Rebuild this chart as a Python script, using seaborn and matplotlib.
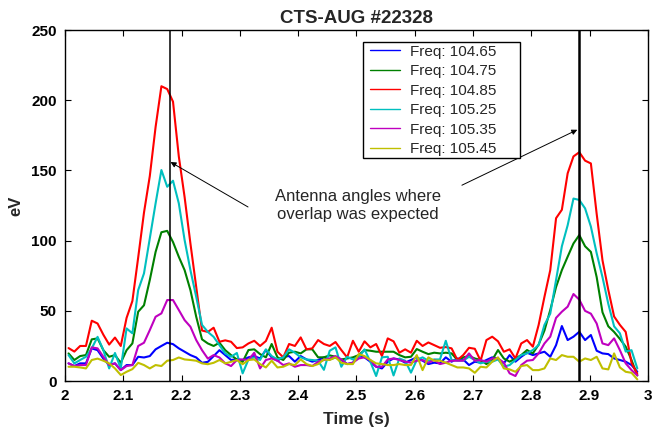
import numpy as np
import pandas as pd
import matplotlib
import matplotlib.pyplot as plt
from matplotlib.patches import Rectangle
import seaborn as sns
matplotlib.use("Agg")

# ==========================================
# Data read off the CTS-AUG #22328 plot
# ==========================================
freq_labels = ["Freq: 104.65", "Freq: 104.75", "Freq: 104.85",
               "Freq: 105.25", "Freq: 105.35", "Freq: 105.45"]
line_colors = ["#0000ff", "#008000", "#ff0000", "#00bfbf", "#bf00bf", "#bfbf00"]

# sample times (s), evenly spaced
time_s = np.linspace(2.006, 2.982, 99)

freq_104_65 = [12.6, 10.7, 12.6, 12.6, 23.3, 22, 16, 11.4, 12.6, 7.8, 11.4, 11.4, 17.3, 16.8, 17.8, 22.6,
               25, 27.3, 26.3, 23.3, 20.9, 18.5, 16.8, 13, 13.7, 17.8, 22, 18.5, 15, 15.6, 15,
               16.9, 17.8, 16.1, 22.1, 16.9, 14.5, 17.3, 17.8, 13.8, 17.8, 15.4, 13.8, 15, 16.9, 15.4,
               16.9, 15, 12.1, 13.1, 18.5, 16.9, 13.8, 10.2, 9, 13.8, 16.1, 15.4, 13.1, 15, 16.9, 14.5,
               12.1, 13.1, 12.6, 16.9, 13.8, 16.1, 15.4, 11.4, 13.8, 13.1, 15, 16.9, 16.1,
               12.6, 18.5, 13.8, 17.3, 20.2, 18.5, 19.7, 20.9, 17.3, 25.6, 39.2, 29.2, 31.6, 35.1,
               29.2, 32.8, 21.6, 19.7, 19.2, 16.1, 15, 13.8, 11.4, 6.6]
freq_104_75 = [19.7, 15, 17.8, 18.5, 29.7, 30.4, 22, 17.3, 18.5, 13, 22, 26.8, 49.4, 54, 72, 92,
               106, 107, 99, 88.5, 79, 64.8, 45.8, 29.7, 26.8, 25, 27.3, 22, 18.5, 15.4, 13.7,
               22.1, 22.6, 19.2, 16.9, 26.4, 16.9, 15, 20.2, 20.9, 19.7, 22.6, 22.6, 16.9, 16.9, 18.3,
               17.3, 15.4, 16.1, 16.9, 18.5, 22.1, 21.6, 20.9, 20.9, 20.9, 20.9, 18.5, 16.9, 17.3, 22.8,
               20.9, 19.2, 20.2, 19.7, 20.2, 19.7, 15, 16.9, 17.8, 16.1, 15, 12.1, 15, 22.1,
               16.1, 13.8, 16.1, 18.5, 22.1, 19.7, 26, 36, 50.6, 67, 79, 88.6, 98, 104,
               96, 92, 74, 49, 39, 35, 30, 24.5, 15, 4]
freq_104_85 = [23.5, 21, 25, 25, 43, 41, 33, 26, 31, 25, 45, 57, 88, 120, 146, 181,
               210, 208, 199, 160, 131, 98, 67, 36, 35, 38, 28, 29, 28, 23.5, 24,
               26.8, 28.7, 25, 28.5, 38, 20.9, 16.9, 26.4, 25, 31.1, 22.6, 23.3, 29.2, 26.4, 25,
               27.8, 22.1, 16.9, 28.7, 20.9, 28.3, 24, 26.4, 17.8, 30.4, 28.3, 20.2, 22.6, 20.2, 28.7,
               25, 27.5, 25.6, 23.7, 24.2, 23.3, 15, 18.5, 23.7, 23, 14.5, 29.2, 31.6, 28.3,
               20.9, 22.6, 16.1, 26.8, 29.2, 24.5, 40, 60, 79, 116, 122, 148, 160, 163,
               157, 155, 119, 86, 65, 46, 40, 35, 13, 5]
freq_105_25 = [18.5, 12.6, 15, 17.3, 23.3, 31.5, 22, 9, 20, 9, 37.5, 34, 64.8, 76.7, 101.6, 126.6,
               150.3, 138.4, 142.7, 126.6, 100.4, 79, 60, 40, 35, 31.5, 25.6, 19.7, 17.3, 20, 5.5,
               15.4, 16.9, 15, 22.6, 17.8, 15.4, 16.9, 22.6, 20.2, 16.9, 15.4, 15, 14.5, 8, 21.6,
               24, 10.2, 17.3, 15.4, 16.9, 22.6, 13.8, 3.6, 16.9, 17.3, 4, 16.1, 14.5, 6, 15,
               16.9, 14.5, 15.4, 15.4, 28.7, 15, 14.5, 14.5, 17.3, 15, 12.6, 13.8, 13.8, 15.4,
               10.2, 11.4, 15, 18.5, 19.7, 22.1, 25.6, 40, 48, 72, 96, 111, 130, 129,
               123, 110, 91, 74, 55, 39, 34, 21, 22, 9]
freq_105_35 = [12.6, 10.7, 11.4, 11.4, 24, 23.3, 17.3, 11.4, 12.6, 7.8, 10.7, 11.4, 25, 27.3, 36.3, 45.8,
               48.2, 57.7, 57.7, 50.6, 43.4, 38.7, 29.2, 22, 16, 18.5, 16.8, 12.6, 10.7, 15, 15.4,
               15, 20.2, 9, 15, 16.1, 14.5, 11.4, 12.6, 10.2, 11.4, 11.4, 10.7, 13.8, 15, 16.1,
               17.8, 15.4, 12.1, 13.1, 16.1, 16.9, 15, 10.2, 10.2, 15.4, 16.1, 15, 13.8, 13.1, 14.5,
               15, 13.1, 15, 12.1, 13.1, 14.5, 14.5, 14.5, 19.7, 14.5, 15, 13.8, 16.1, 16.1,
               13.1, 5.5, 3.6, 11.4, 14.5, 15, 19.7, 26.8, 31.6, 45, 49.4, 53, 62, 58,
               50, 48, 41, 26.8, 25.6, 30.4, 22, 12.6, 7.8, 4]
freq_105_45 = [10.2, 10.2, 9.7, 9, 15, 16, 14.5, 12.6, 9, 4.3, 6.6, 8.5, 13, 11.4, 9, 11.4,
               10.7, 14.5, 15, 16.8, 15.4, 15, 14.5, 12.6, 12, 13, 15, 12.6, 13.7, 15, 12,
               15, 15.4, 12.1, 9.7, 14.5, 9.7, 10.2, 12.1, 11.4, 15.4, 12.1, 10.7, 12.1, 15.4, 15,
               16.9, 13.1, 12.1, 12.1, 19.2, 17.8, 15, 12.6, 12.1, 11.4, 11.4, 12.1, 11.4, 11.4, 18.5,
               7.8, 16.9, 14.5, 14.5, 13.1, 11.4, 9.7, 9.7, 9, 5.9, 10.2, 9.7, 13.8, 16.9,
               9, 8.3, 6.6, 10.7, 11.4, 7.8, 7.8, 9, 16.1, 15, 18.5, 17.3, 17.3, 13.8,
               16.1, 15, 17.3, 9, 8.3, 19.7, 9.7, 6.6, 5.9, 1.2]

antenna_times = [2.18, 2.882]
x_ticks = [2.0, 2.1, 2.2, 2.3, 2.4, 2.5, 2.6, 2.7, 2.8, 2.9, 3.0]
x_tick_labels = ["2", "2.1", "2.2", "2.3", "2.4", "2.5", "2.6", "2.7", "2.8", "2.9", "3"]
y_ticks = [0, 50, 100, 150, 200, 250]

# long table for seaborn
series = [freq_104_65, freq_104_75, freq_104_85, freq_105_25, freq_105_35, freq_105_45]
df = pd.concat(
    [pd.DataFrame({"time": time_s, "eV": vals, "freq": lbl}) for lbl, vals in zip(freq_labels, series)],
    ignore_index=True,
)

# ==========================================
# Plot
# ==========================================
sns.set_theme(style="ticks")
plt.rcParams["font.family"] = ["Liberation Sans", "DejaVu Sans"]

fig = plt.figure(figsize=(6.57, 4.36), dpi=100)
ax = fig.add_axes([0.099, 0.126, 0.887, 0.805])

sns.lineplot(data=df, x="time", y="eV", hue="freq", palette=line_colors,
             linewidth=1.5, errorbar=None, ax=ax)

# antenna angle markers (right one drawn heavier, as in the original)
ax.axvline(antenna_times[0], color="black", linewidth=1.1, zorder=5)
ax.axvline(antenna_times[1], color="black", linewidth=1.8, zorder=5)

ax.set_xlim(2, 3)
ax.set_ylim(0, 250)
ax.set_xticks(x_ticks)
ax.set_xticklabels(x_tick_labels, fontweight="bold")
ax.set_yticks(y_ticks)
ax.set_yticklabels([str(v) for v in y_ticks], fontweight="bold")
ax.tick_params(direction="in", top=True, right=True, length=4, width=0.8,
               labelsize=11, colors="black", pad=6)
for sp in ax.spines.values():
    sp.set_color("black")
    sp.set_linewidth(1.0)

ax.set_title("CTS-AUG #22328", fontsize=13.5, fontweight="bold", pad=5)
ax.set_xlabel("Time (s)", fontsize=12.5, fontweight="bold", labelpad=6)
ax.set_ylabel("eV", fontsize=12, fontweight="bold", labelpad=6)

# annotation text + arrows pointing at antenna angles
ax.text(2.503, 125, "Antenna angles where\noverlap was expected", ha="center", va="center",
        fontsize=12, linespacing=1.25)
arrow_kw = dict(arrowstyle="-|>", color="black", lw=0.7, mutation_scale=8, shrinkA=0, shrinkB=0)
ax.annotate("", xy=(2.181, 156), xytext=(2.314, 124), arrowprops=arrow_kw)
ax.annotate("", xy=(2.879, 179), xytext=(2.681, 139.5), arrowprops=arrow_kw)

# legend: plain black box, drawn as its own frame
ax.add_patch(Rectangle((0.511, 0.636), 0.269, 0.330, transform=ax.transAxes,
                       facecolor="white", edgecolor="black", linewidth=1.0, zorder=6))
leg = ax.legend(loc="upper left", bbox_to_anchor=(0.523, 0.958), borderaxespad=0,
                frameon=False, fontsize=11, borderpad=0,
                handlelength=1.95, labelspacing=0.36, handletextpad=0.65)
leg.set_zorder(7)
for ln in leg.get_lines():
    ln.set_linewidth(1.0)

plt.savefig("out.png", dpi=100)
plt.close()
